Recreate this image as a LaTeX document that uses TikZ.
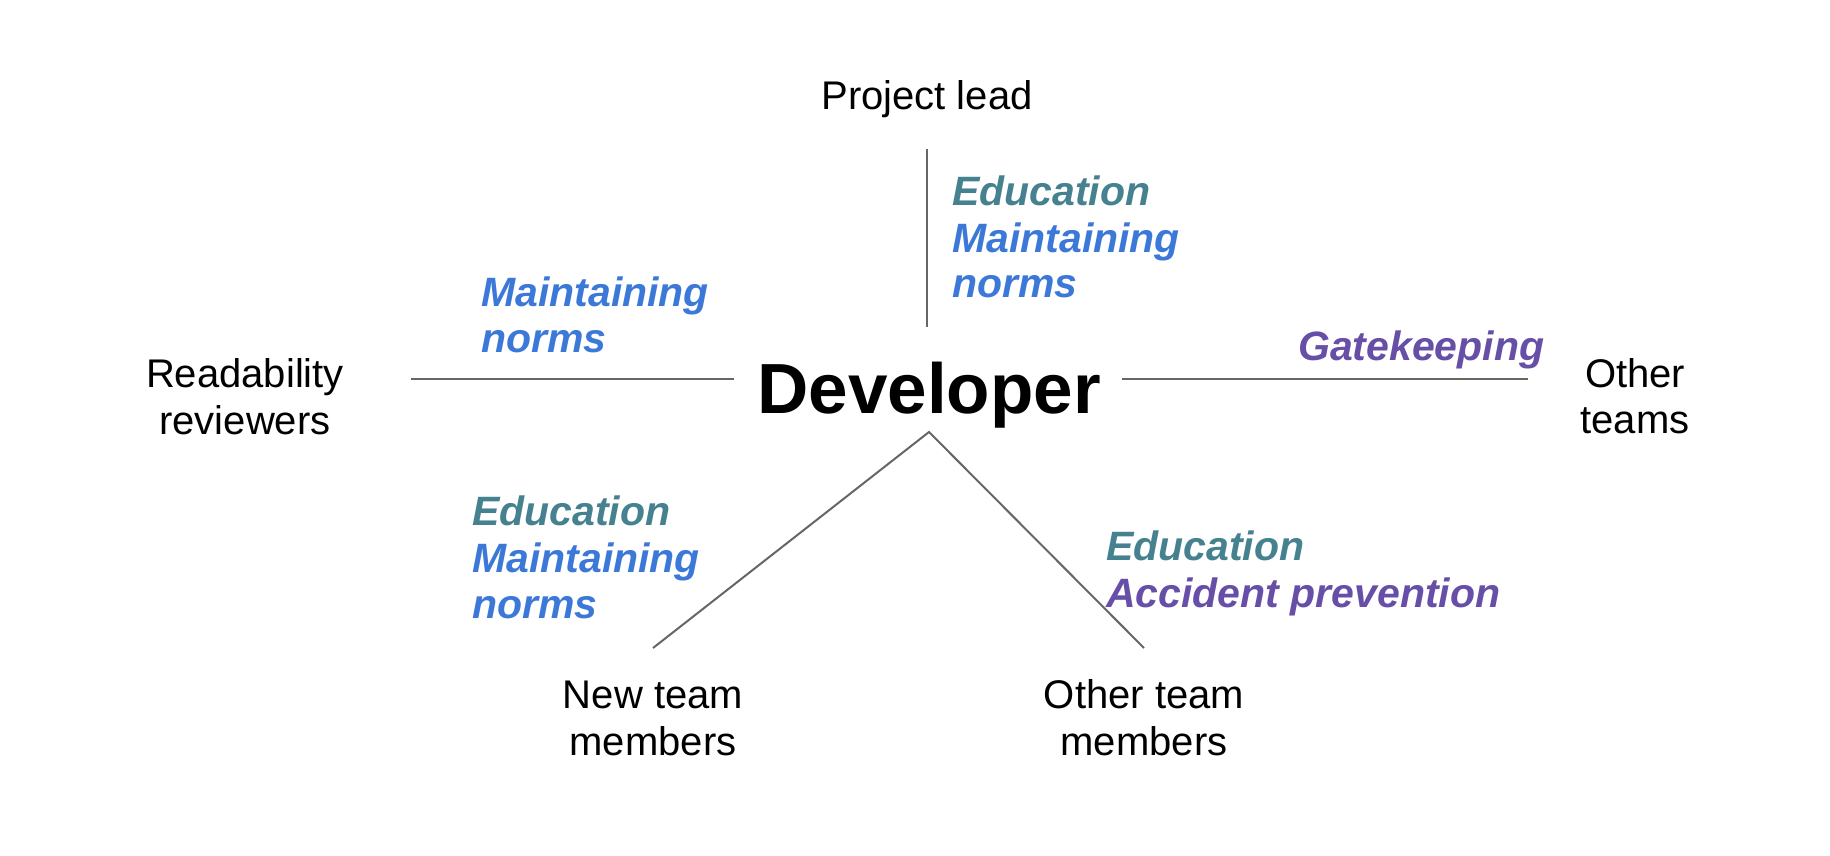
\documentclass[tikz,border=0pt]{standalone}
\usepackage{fontspec}
\setmainfont{Liberation Sans}
\definecolor{edteal}{HTML}{45818E}
\definecolor{mnblue}{HTML}{3C78D8}
\definecolor{gkpurple}{HTML}{674EA7}
\definecolor{linegray}{HTML}{666666}
\begin{document}
\begin{tikzpicture}[x=1pt,y=-1pt,
  lbl/.style={inner sep=0pt, anchor=base, font=\fontsize{40}{46}\selectfont},
  tag/.style={inner sep=0pt, anchor=base west, font=\fontsize{41}{46}\selectfont\bfseries\itshape},
  conn/.style={draw=linegray, line width=2pt}]
\useasboundingbox (0,0) rectangle (1830,856);
% main nodes
\node[lbl] (pl) at (927,110) {Project lead};
\node[lbl, font=\fontsize{71}{75}\selectfont\bfseries] (dev) at (929,413) {Developer};
\node[lbl] (rr1) at (245,387) {Readability};
\node[lbl] (rr2) at (245,434) {reviewers};
\node[lbl] (ot1) at (1635,387) {Other};
\node[lbl] (ot2) at (1635,433) {teams};
\node[lbl] (nt1) at (653,708) {New team};
\node[lbl] (nt2) at (653,755) {members};
\node[lbl] (om1) at (1144,708) {Other team};
\node[lbl] (om2) at (1144,755) {members};
% tags
\node[tag, text=edteal] (t1a) at (952,205) {Education};
\node[tag, text=mnblue] (t1b) at (952,252) {Maintaining};
\node[tag, text=mnblue] (t1c) at (952,297) {norms};
\node[tag, text=mnblue] (t2a) at (481,306) {Maintaining};
\node[tag, text=mnblue] (t2b) at (481,352) {norms};
\node[tag, text=edteal] (t3a) at (472,525) {Education};
\node[tag, text=mnblue] (t3b) at (472,572) {Maintaining};
\node[tag, text=mnblue] (t3c) at (472,618) {norms};
\node[tag, text=edteal] (t4a) at (1106,560) {Education};
\node[tag, text=gkpurple] (t4b) at (1106,607) {Accident prevention};
\node[tag, text=gkpurple] (t5) at (1298,360) {Gatekeeping};
% connector ends
\coordinate (plend) at (927,149);
\coordinate (devtop) at (927,327);
\coordinate (rrend) at (411,379);
\coordinate (devleft) at (734,379);
\coordinate (devright) at (1122,379);
\coordinate (otend) at (1528,379);
\coordinate (devbot) at (929,432);
\coordinate (ntend) at (653,648);
\coordinate (omend) at (1144,648);
\draw[conn] (plend) -- (devtop);
\draw[conn] (rrend) -- (devleft);
\draw[conn] (devright) -- (otend);
\draw[conn] (ntend) -- (devbot) -- (omend);
\end{tikzpicture}
\end{document}
